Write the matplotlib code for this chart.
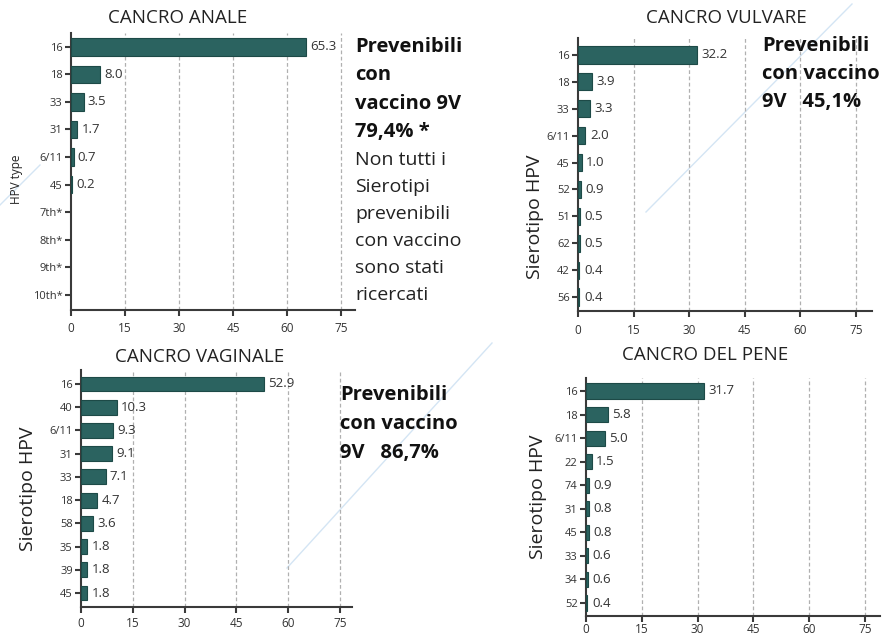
import matplotlib
matplotlib.use("Agg")
import matplotlib.pyplot as plt
from matplotlib.lines import Line2D

plt.rcParams['font.family'] = ['Open Sans', 'DejaVu Sans']

# --- data -------------------------------------------------------------
anale_types = ["16", "18", "33", "31", "6/11", "45", "7th*", "8th*", "9th*", "10th*"]
anale_values = [65.3, 8.0, 3.5, 1.7, 0.7, 0.2, None, None, None, None]

vulvare_types = ["16", "18", "33", "6/11", "45", "52", "51", "62", "42", "56"]
vulvare_values = [32.2, 3.9, 3.3, 2.0, 1.0, 0.9, 0.5, 0.5, 0.4, 0.4]

vaginale_types = ["16", "40", "6/11", "31", "33", "18", "58", "35", "39", "45"]
vaginale_values = [52.9, 10.3, 9.3, 9.1, 7.1, 4.7, 3.6, 1.8, 1.8, 1.8]

pene_types = ["16", "18", "6/11", "22", "74", "31", "45", "33", "34", "52"]
pene_values = [31.7, 5.8, 5.0, 1.5, 0.9, 0.8, 0.8, 0.6, 0.6, 0.4]

x_ticks = [0, 15, 30, 45, 60, 75]

titles = ["CANCRO ANALE", "CANCRO VULVARE", "CANCRO VAGINALE", "CANCRO DEL PENE"]
ylabels = ["HPV type", "Sierotipo HPV", "Sierotipo HPV", "Sierotipo HPV"]

BAR = "#2b6360"
AXC = "#3a3a3a"
W, H = 886, 635

fig = plt.figure(figsize=(W / 100, H / 100), dpi=100)
fig.patch.set_facecolor("white")

# faint diagonal background strokes
for (xa, ya), (xb, yb) in [((646, 212), (852, 4)),
                           ((287, 568), (492, 343)),
                           ((0, 205), (40, 165))]:
    fig.add_artist(Line2D([xa / W, xb / W], [1 - ya / H, 1 - yb / H],
                          transform=fig.transFigure, color="#d4e5f4",
                          linewidth=1.0, zorder=0))


def px_axes(x0, x75, xend, ytop, ybot):
    """Create axes from pixel geometry (x0 = value 0, x75 = value 75)."""
    scale = (x75 - x0) / 75.0
    width = xend - x0
    ax = fig.add_axes([x0 / W, 1 - ybot / H, width / W, (ybot - ytop) / H])
    ax.set_xlim(0, width / scale)
    ax.patch.set_alpha(0)
    return ax


def draw_panel(ax, types, values, ylim, ylabel, ylabel_size, ylabel_xy,
               tick_size=8, val_size=9.5, bar_h=0.64, xpad=5):
    n = len(types)
    pos = list(range(n))
    for i, v in zip(pos, values):
        if v is None:
            continue
        ax.barh(i, v, height=bar_h, color=BAR, edgecolor="#1d4a47",
                linewidth=0.8, zorder=3)
        ax.text(v + 1.2, i, f"{v:.1f}", va="center", ha="left",
                fontsize=val_size, color="#333333", zorder=4)
    ax.set_ylim(*ylim)
    ax.set_yticks(pos)
    ax.set_yticklabels(types, fontsize=tick_size, color="#333333")
    ax.set_xticks(x_ticks)
    ax.set_xticklabels([str(t) for t in x_ticks], fontsize=8.5, color="#333333")
    for t in x_ticks[1:]:
        ax.axvline(t, color="#b0b0b0", linestyle=(0, (3, 2)), linewidth=0.9,
                   zorder=1)
    for s in ("top", "right"):
        ax.spines[s].set_visible(False)
    for s in ("left", "bottom"):
        ax.spines[s].set_color(AXC)
        ax.spines[s].set_linewidth(1.5)
    ax.tick_params(axis="y", length=4, width=1.5, color=AXC, pad=2)
    ax.tick_params(axis="x", length=4, width=1.5, color=AXC, pad=xpad)
    ax.set_ylabel(ylabel, fontsize=ylabel_size, color="#222222")
    ax.yaxis.set_label_coords(*ylabel_xy)


# CANCRO ANALE
ax1 = px_axes(71, 341, 355, 33, 310)
draw_panel(ax1, anale_types, anale_values, (9.55, -0.5), ylabels[0], 8.5,
           (-0.169, 0.473))
# CANCRO VULVARE
ax2 = px_axes(578, 856, 872, 38, 311)
draw_panel(ax2, vulvare_types, vulvare_values, (9.52, -0.63), ylabels[1], 14,
           (-0.116, 0.344))
# CANCRO VAGINALE
ax3 = px_axes(81, 340, 352, 370, 607)
draw_panel(ax3, vaginale_types, vaginale_values, (9.6, -0.6), ylabels[2], 14,
           (-0.162, 0.5), xpad=3)
# CANCRO DEL PENE
ax4 = px_axes(586, 865, 880, 378, 616)
draw_panel(ax4, pene_types, pene_values, (9.55, -0.55), ylabels[3], 14,
           (-0.133, 0.5), xpad=1)


def ftext(x, y, s, **kw):
    fig.text(x / W, 1 - y / H, s, **kw)


title_kw = dict(fontsize=13.5, color="#222222", ha="center", va="center")
ftext(178, 18, titles[0], **title_kw)
ftext(726, 18, titles[1], **title_kw)
ftext(200, 357, titles[2], **title_kw)
ftext(705, 355, titles[3], **title_kw)

bold_kw = dict(fontsize=14.5, fontweight="bold", color="#111111", va="center",
               ha="left")
reg_kw = dict(fontsize=14, color="#222222", va="center", ha="left")

# notes beside the charts
anale_bold = ["Prevenibili", "con", "vaccino 9V", "79,4% *"]
anale_reg = ["Non tutti i", "Sierotipi", "prevenibili", "con vaccino",
             "sono stati", "ricercati"]
for k, s in enumerate(anale_bold):
    ftext(355, 47 + 28.5 * k, s, **bold_kw)
for k, s in enumerate(anale_reg):
    ftext(355, 160 + 27 * k, s, **reg_kw)

for k, s in enumerate(["Prevenibili", "con vaccino", "9V   45,1%"]):
    ftext(762, 46 + 28 * k, s, **bold_kw)

for k, s in enumerate(["Prevenibili", "con vaccino", "9V   86,7%"]):
    ftext(340, 395 + 29 * k, s, **bold_kw)

fig.savefig("out.png", dpi=100, facecolor="white")
